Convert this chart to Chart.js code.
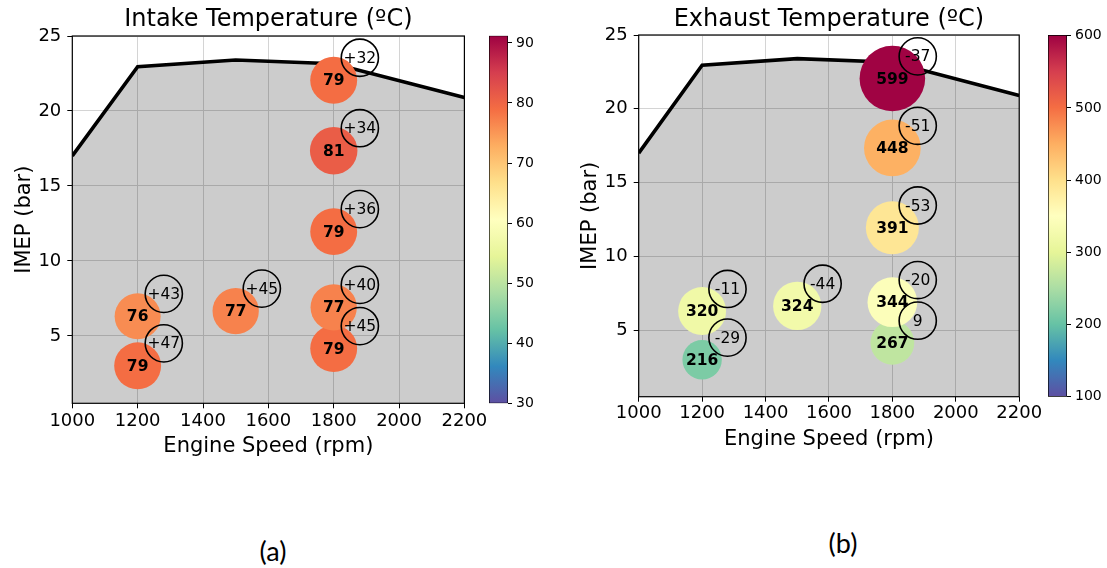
<!DOCTYPE html>
<html>
<head>
<meta charset="utf-8">
<script src="https://cdn.jsdelivr.net/npm/chart.js@4.4.1/dist/chart.umd.min.js"></script>
<style>
  html, body { margin: 0; padding: 0; background: #fff; }
  body { width: 1107px; height: 568px; position: relative; overflow: hidden; }
  canvas { position: absolute; top: 0; }
  .panel { position: absolute; font-family: Lato, "Open Sans", sans-serif; font-size: 27px; color: #000; transform: translate(-50%, -50%); white-space: nowrap; }
</style>
</head>
<body>
<canvas id="cbA" width="70" height="470" style="left:480px"></canvas>
<canvas id="cbB" width="68" height="470" style="left:1039px"></canvas>
<canvas id="mainA" style="left:0px"></canvas>
<canvas id="mainB" style="left:566px"></canvas>
<div class="panel" style="left:273px; top:550px">(a)</div>
<div class="panel" style="left:843px; top:542px">(b)</div>
<script>
// ---------------- data ----------------
const engineSpeed = [1200, 1200, 1500, 1800, 1800, 1800, 1800, 1800];
const imep        = [3.0, 6.3, 6.65, 4.15, 6.9, 11.95, 17.35, 22.05];
const intakeTemp  = [79, 76, 77, 79, 77, 79, 81, 79];
const exhaustTemp = [216, 320, 324, 267, 344, 391, 448, 599];
const intakeDelta  = ['+47', '+43', '+45', '+45', '+40', '+36', '+34', '+32'];
const exhaustDelta = ['-29', '-11', '-44', '9', '-20', '-53', '-51', '-37'];
const limitSpeed = [1000, 1200, 1500, 1800, 2200];
const limitImep  = [17.0, 22.95, 23.4, 23.15, 20.9];
const xTicks = [1000, 1200, 1400, 1600, 1800, 2000, 2200];
const yTicks = [5, 10, 15, 20, 25];
const intakeCbTicks  = [30, 40, 50, 60, 70, 80, 90];
const exhaustCbTicks = [100, 200, 300, 400, 500, 600];

// ---------------- colormap (Spectral, reversed) ----------------
const SPECTRAL = [[158,1,66],[213,62,79],[244,109,67],[253,174,97],[254,224,139],[255,255,191],
                  [230,245,152],[171,221,164],[102,194,165],[50,136,189],[94,79,162]];
function spectralR(t) {
  t = Math.min(1, Math.max(0, t));
  const s = (1 - t) * 10;
  const i = Math.min(9, Math.floor(s));
  const f = s - i;
  const a = SPECTRAL[i], b = SPECTRAL[i + 1];
  const c = a.map((v, k) => Math.round(v + (b[k] - v) * f));
  return `rgb(${c[0]},${c[1]},${c[2]})`;
}

const FONT = '"DejaVu Sans", Verdana, sans-serif';
Chart.defaults.font.family = FONT;
Chart.defaults.color = '#000';
const plainTick = v => String(v);

const pointLabelPlugin = {
  id: 'pointLabels',
  afterDatasetsDraw(chart) {
    const ctx = chart.ctx;
    chart.data.datasets.forEach((ds, i) => {
      if (!ds.pointLabels) return;
      const meta = chart.getDatasetMeta(i);
      ctx.save();
      ctx.font = ds.labelFont;
      ctx.fillStyle = '#000';
      ctx.textAlign = 'center';
      ctx.textBaseline = 'middle';
      meta.data.forEach((el, j) => ctx.fillText(ds.pointLabels[j], el.x, el.y + 1));
      ctx.restore();
    });
  }
};
const framePlugin = {
  id: 'frame',
  afterDraw(chart) {
    const a = chart.chartArea, ctx = chart.ctx;
    ctx.save();
    ctx.strokeStyle = '#000';
    ctx.lineWidth = 1.2;
    ctx.strokeRect(a.left, a.top, a.right - a.left, a.bottom - a.top);
    ctx.restore();
  }
};

function mainChart(id, p) {
  const canvas = document.getElementById(id);
  const H = 470;
  const plotLw = p.plotL - p.canvasLeft;
  const plotRw = p.plotR - p.canvasLeft;
  const W = Math.round(plotRw + 28);
  canvas.width = W; canvas.height = H;
  const circleDX = 80, circleDY = 1.5;
  new Chart(canvas, {
    type: 'bubble',
    data: {
      datasets: [
        {
          label: 'delta',
          order: 0,
          data: engineSpeed.map((x, i) => ({ x: x + circleDX, y: imep[i] + circleDY, r: 18.6 })),
          backgroundColor: 'rgba(0,0,0,0)',
          borderColor: '#000',
          borderWidth: 1.6,
          pointLabels: p.deltas,
          labelFont: '15.5px ' + FONT,
          clip: false
        },
        {
          label: 'temp',
          order: 1,
          data: engineSpeed.map((x, i) => ({ x: x, y: imep[i], r: p.rk * Math.sqrt(p.values[i]) })),
          backgroundColor: p.values.map(v => spectralR((v - p.vmin) / (p.vmax - p.vmin))),
          borderWidth: 0,
          pointLabels: p.values.map(v => String(v)),
          labelFont: 'bold 15.5px ' + FONT
        },
        {
          type: 'line',
          label: 'limit',
          order: 2,
          data: limitSpeed.map((x, i) => ({ x: x, y: limitImep[i] })),
          borderColor: '#000',
          borderWidth: 3.6,
          pointRadius: 0,
          tension: 0,
          fill: 'start',
          backgroundColor: 'rgba(0,0,0,0.2)',
          clip: 0
        }
      ]
    },
    options: {
      responsive: false,
      animation: false,
      events: [],
      layout: { padding: { left: 0, right: W - plotRw, top: 0, bottom: 0 } },
      plugins: {
        legend: { display: false },
        tooltip: { enabled: false },
        title: {
          display: true,
          fullSize: false,
          text: p.title,
          font: { size: 24, weight: 'normal', family: FONT, lineHeight: 1.2 },
          color: '#000',
          padding: { top: 5.5, bottom: p.plotT - 28.8 - 5.5 }
        }
      },
      scales: {
        x: {
          type: 'linear',
          min: 1000, max: 2200,
          afterBuildTicks: s => { s.ticks = xTicks.map(v => ({ value: v })); },
          afterFit: s => { s.height = H - p.plotB; },
          ticks: { font: { size: 18, family: FONT }, color: '#000', padding: p.xTickPad, maxRotation: 0, autoSkip: false, callback: plainTick },
          grid: { color: '#d4d4d4', lineWidth: 1, drawTicks: true, tickLength: 5, tickColor: '#000', tickWidth: 1 },
          border: { display: false },
          title: { display: true, text: 'Engine Speed (rpm)', font: { size: 21, family: FONT }, color: '#000',
                   padding: { top: 0, bottom: (H - p.plotB) - p.xTitleOff - 12.6 } }
        },
        y: {
          type: 'linear',
          min: 0.5, max: 25,
          afterBuildTicks: s => { s.ticks = yTicks.map(v => ({ value: v })); },
          afterFit: s => { s.width = plotLw; },
          ticks: { font: { size: 18, family: FONT }, color: '#000', padding: 6, autoSkip: false, callback: plainTick },
          grid: { color: '#d4d4d4', lineWidth: 1, drawTicks: true, tickLength: 5, tickColor: '#000', tickWidth: 1 },
          border: { display: false },
          title: { display: true, text: 'IMEP (bar)', font: { size: 21, family: FONT }, color: '#000',
                   padding: { top: 12, bottom: 0 } }
        }
      }
    },
    plugins: [pointLabelPlugin, framePlugin]
  });
}

function colorbar(id, p) {
  const canvas = document.getElementById(id);
  const W = canvas.width, H = canvas.height;
  new Chart(canvas, {
    type: 'bar',
    data: {
      labels: ['cb'],
      datasets: [{
        data: [[p.vmin, p.vmax]],
        backgroundColor: (ctx) => {
          const ca = ctx.chart.chartArea;
          if (!ca) return '#888';
          const g = ctx.chart.ctx.createLinearGradient(0, ca.bottom, 0, ca.top);
          for (let i = 0; i <= 20; i++) g.addColorStop(i / 20, spectralR(i / 20));
          return g;
        },
        borderColor: '#000',
        borderWidth: 1,
        borderSkipped: false,
        barPercentage: 1,
        categoryPercentage: 1
      }]
    },
    options: {
      responsive: false,
      animation: false,
      events: [],
      layout: { padding: { left: p.left, right: 0, top: p.top, bottom: H - p.bottom } },
      plugins: { legend: { display: false }, tooltip: { enabled: false } },
      scales: {
        x: { display: false },
        y: {
          position: 'right',
          min: p.vmin, max: p.vmax,
          afterBuildTicks: s => { s.ticks = p.ticks.map(v => ({ value: v })); },
          afterFit: s => { s.width = W - p.right; },
          ticks: { font: { size: 14, family: FONT }, color: '#000', padding: 4, autoSkip: false, callback: plainTick },
          grid: { display: true, drawOnChartArea: false, drawTicks: true, tickLength: 4, tickColor: '#000', tickWidth: 1 },
          border: { display: false }
        }
      }
    }
  });
}

mainChart('mainA', {
  canvasLeft: 0, plotL: 72.3, plotR: 464.4, plotT: 36, plotB: 403.3,
  title: 'Intake Temperature (ºC)', values: intakeTemp, deltas: intakeDelta,
  vmin: 30, vmax: 91.2, rk: 2.64, xTickPad: 2.6, xTitleOff: 43.4
});
mainChart('mainB', {
  canvasLeft: 566, plotL: 638.7, plotR: 1023.7, plotT: 35, plotB: 396.7,
  title: 'Exhaust Temperature (ºC)', values: exhaustTemp, deltas: exhaustDelta,
  vmin: 100, vmax: 601, rk: 1.34, xTickPad: 0.5, xTitleOff: 42.6
});
colorbar('cbA', { vmin: 30, vmax: 91.2, ticks: intakeCbTicks, left: 9, right: 28, top: 35.7, bottom: 403.3 });
colorbar('cbB', { vmin: 100, vmax: 601, ticks: exhaustCbTicks, left: 9, right: 28, top: 35, bottom: 396.7 });
</script>
</body>
</html>
